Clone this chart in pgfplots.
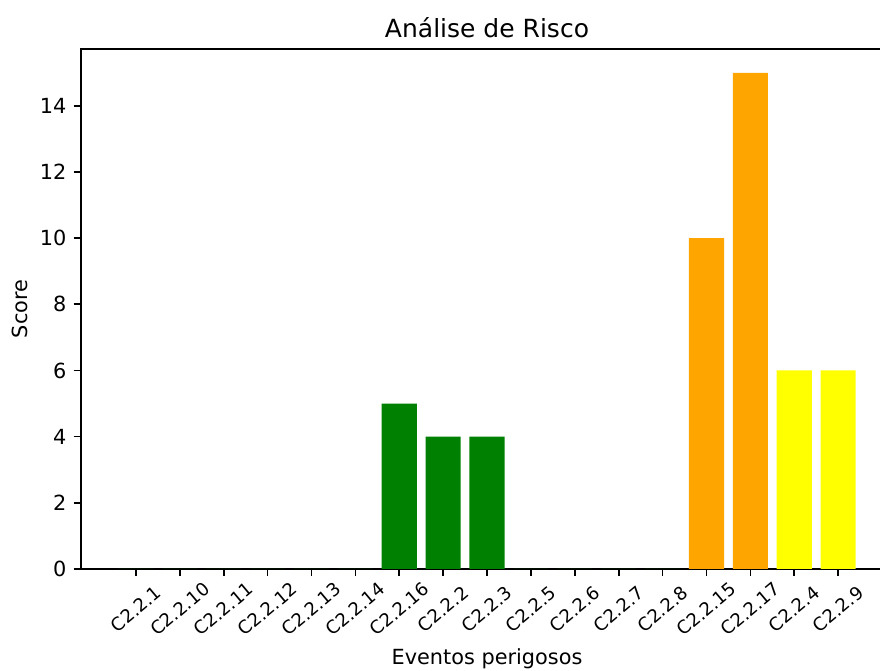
\documentclass[border=0pt]{standalone}
\usepackage{fontspec}
\setmainfont{DejaVu Sans}
\usepackage{pgfplots}
\pgfplotsset{compat=1.18}
\definecolor{mgreen}{HTML}{008000}
\definecolor{morange}{HTML}{FFA500}
\definecolor{myellow}{HTML}{FFFF00}
\begin{document}
\begin{tikzpicture}
\begin{axis}[
  scale only axis,
  width=389.8pt, height=249.6pt,
  xmin=-1.25, xmax=17.25,
  ymin=0, ymax=15.72,
  xtick={0,...,16},
  xticklabels={C2.2.1,C2.2.10,C2.2.11,C2.2.12,C2.2.13,C2.2.14,C2.2.16,C2.2.2,C2.2.3,C2.2.5,C2.2.6,C2.2.7,C2.2.8,C2.2.15,C2.2.17,C2.2.4,C2.2.9},
  ytick={0,2,...,14},
  tick align=outside,
  major tick length=3.5pt,
  tick style={line width=0.8pt, black},
  axis line style={line width=0.8pt},
  xtick pos=bottom, ytick pos=left,
  /pgf/number format/assume math mode=true,
  tick label style={font=\fontsize{10}{12}\selectfont},
  xticklabel style={font=\fontsize{8.7}{10}\selectfont, yshift=-15.8pt, rotate=40, anchor=center},
  title={Análise de Risco},
  title style={font=\fontsize{12}{14}\selectfont, at={(0.5,1)}, anchor=center, yshift=4.1pt},
  xlabel={Eventos perigosos},
  xlabel style={font=\fontsize{10}{12}\selectfont, at={(axis description cs:0.5,-0.173)}, anchor=center},
  ylabel={Score},
  ylabel style={font=\fontsize{10}{12}\selectfont, at={(axis description cs:-0.0752,0.5)}, anchor=center},
]
\addplot[ybar, bar width=0.8, bar shift=0pt, fill=mgreen, draw=none] coordinates {(0,0) (1,0) (2,0) (3,0) (4,0) (5,0) (9,0) (10,0) (11,0) (12,0)};
\addplot[ybar, bar width=0.8, bar shift=0pt, fill=mgreen, draw=none] coordinates {(6,5) (7,4) (8,4)};
\addplot[ybar, bar width=0.8, bar shift=0pt, fill=morange, draw=none] coordinates {(13,10) (14,15)};
\addplot[ybar, bar width=0.8, bar shift=0pt, fill=myellow, draw=none] coordinates {(15,6) (16,6)};
\end{axis}
\pgfresetboundingbox
\path[use as bounding box] ([xshift=-38.9pt,yshift=-48.96pt]current axis.south west) rectangle ([xshift=-6.24pt,yshift=23.5pt]current axis.north east);
\end{tikzpicture}
\end{document}
